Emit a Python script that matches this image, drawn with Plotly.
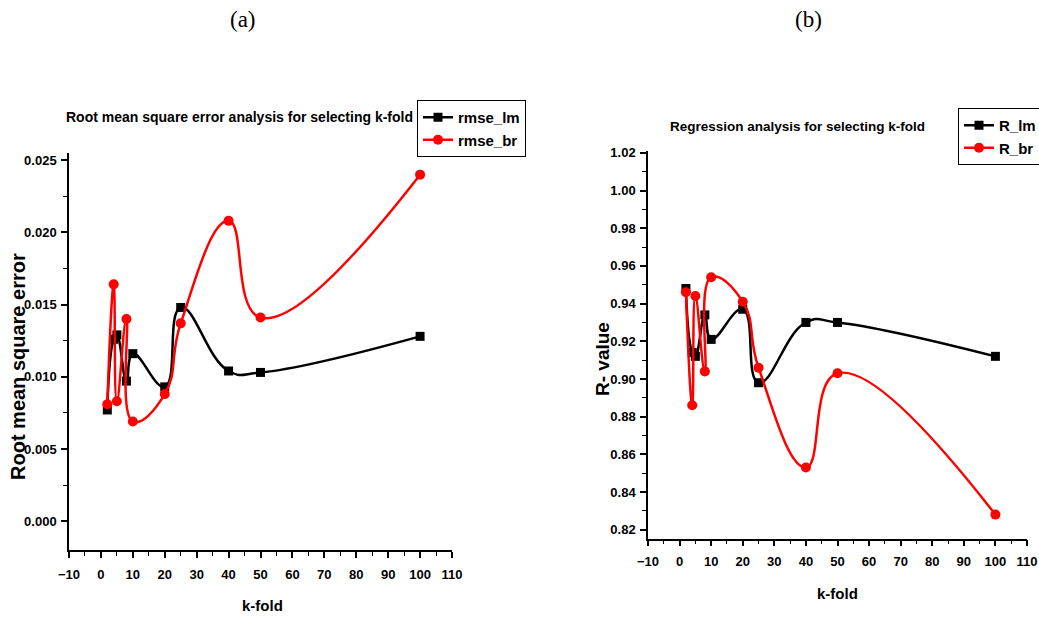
import plotly.graph_objects as go

k_fold = [2, 4, 5, 8, 10, 20, 25, 40, 50, 100]
rmse_lm = [0.0077, 0.0126, 0.0129, 0.0097, 0.0116, 0.0093, 0.0148, 0.0104, 0.0103, 0.0128]
rmse_br = [0.0081, 0.0164, 0.0083, 0.0140, 0.0069, 0.0088, 0.0137, 0.0208, 0.0141, 0.0240]
r_lm = [0.948, 0.914, 0.912, 0.934, 0.921, 0.937, 0.898, 0.930, 0.930, 0.912]
r_br = [0.946, 0.886, 0.944, 0.904, 0.954, 0.941, 0.906, 0.853, 0.903, 0.828]

SANS = "Liberation Sans, Arial, sans-serif"
SERIF = "Liberation Serif, Times New Roman, serif"
BLACK = "#000000"
RED = "#ff0000"
W, H = 1039, 618

fig = go.Figure()

def add(x, y, name, color, symbol, size, xa, ya, legend):
    fig.add_trace(go.Scatter(
        x=x, y=y, name=name, mode="lines+markers",
        line=dict(color=color, width=2.5, shape="spline", smoothing=1.3),
        marker=dict(color=color, symbol=symbol, size=size),
        xaxis=xa, yaxis=ya, legend=legend))

add(k_fold, rmse_lm, "rmse_lm", BLACK, "square", 9, "x", "y", "legend")
add(k_fold, rmse_br, "rmse_br", RED, "circle", 10, "x", "y", "legend")
add(k_fold, r_lm, "R_lm", BLACK, "square", 9, "x2", "y2", "legend2")
add(k_fold, r_br, "R_br", RED, "circle", 10, "x2", "y2", "legend2")

tickfont = dict(family=SANS, size=13, color=BLACK, weight="bold")
axis_common = dict(showline=True, linecolor=BLACK, linewidth=1.5, ticks="outside",
                   ticklen=6, tickwidth=1.5, tickcolor=BLACK, showgrid=False,
                   zeroline=False, tickfont=tickfont, automargin=False,
                   tickprefix="<b>", ticksuffix="</b>")
minor_x = dict(dtick=5, ticks="outside", ticklen=4, tickcolor=BLACK, tickwidth=1.2)

fig.update_layout(
    width=W, height=H,
    margin=dict(l=0, r=0, t=0, b=0, autoexpand=False),
    paper_bgcolor="white", plot_bgcolor="white",
    xaxis=dict(domain=[69/W, 452/W], range=[-10, 110], dtick=10, tick0=0,
               minor=minor_x, anchor="y", ticklabelstandoff=6, **axis_common),
    yaxis=dict(domain=[1-550/H, 1-153/H], range=[-0.002, 0.0255], dtick=0.005, tick0=0,
               tickformat=".3f", anchor="x", ticklabelstandoff=2,
               minor=dict(dtick=0.0025, ticks="outside", ticklen=4, tickcolor=BLACK, tickwidth=1.2),
               **axis_common),
    xaxis2=dict(domain=[648/W, 1027/W], range=[-10, 110], dtick=10, tick0=0,
                minor=minor_x, anchor="y2", ticklabelstandoff=4, **axis_common),
    yaxis2=dict(domain=[1-538.7/H, 1-151/H], range=[0.8152, 1.021], dtick=0.02, tick0=0.82,
                tickformat=".2f", anchor="x2", ticklabelstandoff=2,
                minor=dict(dtick=0.01, ticks="outside", ticklen=4, tickcolor=BLACK, tickwidth=1.2),
                **axis_common),
    legend=dict(x=417/W, y=1-100/H, xanchor="left", yanchor="top",
                bordercolor=BLACK, borderwidth=1, bgcolor="white",
                font=dict(family=SANS, size=15, color=BLACK, weight="bold"),
                tracegroupgap=0, itemwidth=30),
    legend2=dict(x=958/W, y=1-108/H, xanchor="left", yanchor="top",
                 bordercolor=BLACK, borderwidth=1, bgcolor="white",
                 font=dict(family=SANS, size=15, color=BLACK, weight="bold"),
                 tracegroupgap=0, itemwidth=30),
    showlegend=True,
)

def ann(text, x, y, size, family=SANS, angle=0):
    fig.add_annotation(text=text, x=x/W, y=1-y/H, xref="paper", yref="paper",
                       xanchor="center", yanchor="middle", showarrow=False, textangle=angle,
                       font=dict(family=family, size=size, color=BLACK))

ann("(a)", 243, 20, 23, SERIF)
ann("(b)", 808, 20, 23, SERIF)
ann("<b>Root mean square error analysis for selecting k-fold</b>", 239, 117, 14)
ann("<b>Regression analysis for selecting k-fold</b>", 797, 126, 13.5)
ann("<b>Root mean square error</b>", 18, 367, 20, angle=-90)
ann("<b>R- value</b>", 602, 359, 19, angle=-90)
ann("<b>k-fold</b>", 262, 605, 15)
ann("<b>k-fold</b>", 837, 593, 15)

fig.write_html("out.html")
